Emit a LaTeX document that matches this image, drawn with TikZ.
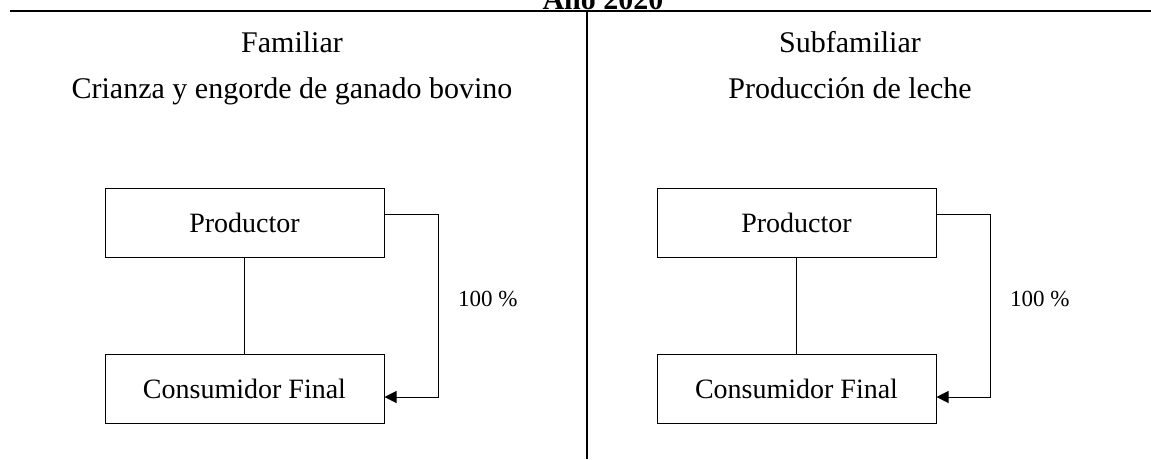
\documentclass[tikz,border=0pt]{standalone}
\usepackage{fontspec}
\setmainfont{Liberation Serif}
\usetikzlibrary{arrows.meta}
\begin{document}
\begin{tikzpicture}[x=1pt,y=-1pt,
  box/.style={draw,line width=1pt,minimum width=279pt,minimum height=69pt,inner sep=0pt,font=\fontsize{28}{32}\selectfont},
  head/.style={font=\fontsize{30}{34}\selectfont,inner sep=0pt,anchor=base},
  pct/.style={font=\fontsize{23}{26}\selectfont,inner sep=0pt,anchor=base west},
  conn/.style={line width=1pt},
  flow/.style={line width=1pt,-{Triangle[length=12pt,width=12pt]}}]
\useasboundingbox (0,0) rectangle (1151,459);
% title and frame
\node[font=\bfseries\fontsize{30}{34}\selectfont,inner sep=0pt,anchor=base] (title) at (603,9) {Año 2020};
\coordinate (hl) at (10,11);
\coordinate (hr) at (1151,11);
\draw[line width=2.2pt] (hl) -- (hr);
\coordinate (vt) at (587,11);
\coordinate (vb) at (587,459);
\draw[line width=2.2pt] (vt) -- (vb);
% left
\node[head] (famL) at (292,52) {Familiar};
\node[head] (subL) at (292,98) {Crianza y engorde de ganado bovino};
\node[box] (prodL) at (244.5,223) {Productor};
\node[box] (consL) at (244.5,388.5) {Consumidor Final};
\draw[conn] (prodL) -- (consL);
\coordinate (aL1) at (438,214);
\coordinate (aL2) at (438,397);
\draw[flow] (prodL.east |- aL1) -- (aL1) -- (aL2) -- (consL.east |- aL2);
\node[pct] (pL) at (458,306) {100 \%};
% right
\node[head] (famR) at (850,52) {Subfamiliar};
\node[head] (subR) at (850,98) {Producción de leche};
\node[box] (prodR) at (796.5,223) {Productor};
\node[box] (consR) at (796.5,388.5) {Consumidor Final};
\draw[conn] (prodR) -- (consR);
\coordinate (aR1) at (990,214);
\coordinate (aR2) at (990,397);
\draw[flow] (prodR.east |- aR1) -- (aR1) -- (aR2) -- (consR.east |- aR2);
\node[pct] (pR) at (1010,306) {100 \%};
\end{tikzpicture}
\end{document}
